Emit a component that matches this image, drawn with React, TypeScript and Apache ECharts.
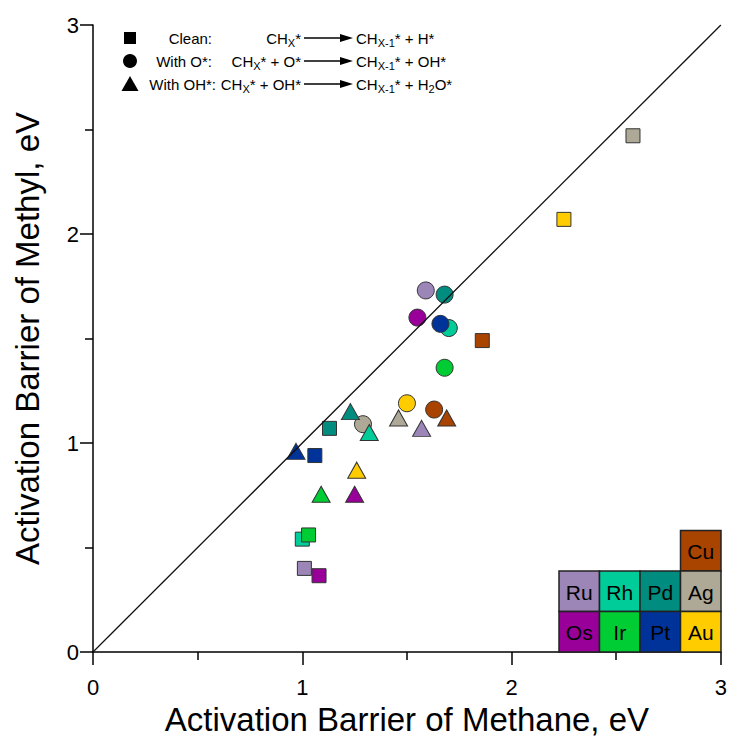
import React, { useEffect, useRef } from "react";
import * as echarts from "echarts";

// Metals (draw order)
const metals = ["Cu", "Ru", "Rh", "Pd", "Ag", "Os", "Ir", "Pt", "Au"];

// Clean surface: CHx* -> CHx-1* + H*
const cleanMethane = [1.86, 1.01, 1.0, 1.13, 2.58, 1.08, 1.03, 1.06, 2.25];
const cleanMethyl = [1.49, 0.4, 0.54, 1.07, 2.47, 0.365, 0.56, 0.94, 2.07];

// With O*
const oMethane = [1.63, 1.59, 1.7, 1.68, 1.29, 1.55, 1.68, 1.66, 1.5];
const oMethyl = [1.16, 1.73, 1.55, 1.71, 1.09, 1.6, 1.36, 1.57, 1.19];

// With OH*
const ohMethane = [1.69, 1.57, 1.32, 1.23, 1.46, 1.25, 1.09, 0.97, 1.26];
const ohMethyl = [1.12, 1.07, 1.05, 1.15, 1.12, 0.755, 0.755, 0.96, 0.87];

// parity line
const parityLine = [[0, 0], [3, 3]];

const axisTicks = [0, 1, 2, 3];

// Periodic-table legend layout (rows of metals)
const tableRows = [
  [null, null, null, "Cu"],
  ["Ru", "Rh", "Pd", "Ag"],
  ["Os", "Ir", "Pt", "Au"],
];

const metalColors: Record<string, string> = {
  Cu: "#A84300",
  Ru: "#9C86B8",
  Rh: "#00CC99",
  Pd: "#008C7F",
  Ag: "#ADA996",
  Os: "#990099",
  Ir: "#00CC33",
  Pt: "#003399",
  Au: "#FFCC00",
};

const FONT = "'Liberation Sans', Arial, Helvetica, sans-serif";

function buildData(xs: number[], ys: number[]) {
  return metals.map((m, i) => ({
    name: m,
    value: [xs[i], ys[i]],
    itemStyle: { color: metalColors[m] },
  }));
}

export default function App() {
  const ref = useRef<HTMLDivElement>(null);

  useEffect(() => {
    document.body.style.margin = "0";
    if (!ref.current) return;
    const chart = echarts.init(ref.current, undefined, { renderer: "svg" });

    const GL = 93, GR = 9, GT = 25, GB = 95;
    const W = 730, H = 747;
    const right = W - GR;
    const bottom = H - GB;

    const graphics: any[] = [];

    // periodic table legend
    const cell = 40.5;
    const nCols = 4;
    const tableLeft = right - nCols * cell;
    const tableTop = bottom - tableRows.length * cell;
    tableRows.forEach((row, r) => {
      row.forEach((m, c) => {
        if (!m) return;
        const x = tableLeft + c * cell;
        const y = tableTop + r * cell;
        graphics.push({
          type: "rect",
          shape: { x, y, width: cell, height: cell },
          style: { fill: metalColors[m], stroke: "#222", lineWidth: 1.5 },
          z: 10,
        });
        graphics.push({
          type: "text",
          x: x + cell / 2,
          y: y + cell / 2 + 1,
          style: {
            text: m,
            fill: "#000",
            fontSize: 21,
            fontFamily: FONT,
            align: "center",
            verticalAlign: "middle",
          },
          z: 11,
        });
      });
    });

    // reaction legend (top-left)
    const rowsY = [38, 61, 84];
    const rich = {
      n: { fontSize: 15, fontFamily: FONT, fill: "#000", lineHeight: 20, verticalAlign: "middle" },
      s: { fontSize: 11, fontFamily: FONT, fill: "#000", lineHeight: 11, verticalAlign: "bottom" },
    };
    graphics.push({
      type: "rect",
      shape: { x: 124, y: rowsY[0] - 6, width: 12, height: 12 },
      style: { fill: "#000" },
    });
    graphics.push({
      type: "circle",
      shape: { cx: 130, cy: rowsY[1], r: 7 },
      style: { fill: "#000" },
    });
    graphics.push({
      type: "polygon",
      shape: { points: [[121.5, rowsY[2] + 7], [138.5, rowsY[2] + 7], [130, rowsY[2] - 8]] },
      style: { fill: "#000" },
    });
    const labels = ["Clean:", "With O*:", "With OH*:"];
    const labelRight = [212, 212, 216];
    labels.forEach((t, i) => {
      graphics.push({
        type: "text",
        x: labelRight[i],
        y: rowsY[i],
        style: { text: t, fill: "#000", fontSize: 15, fontFamily: FONT, align: "right", verticalAlign: "middle" },
      });
    });
    const leftEq = [
      "{n|CH}{s|X}{n|*}",
      "{n|CH}{s|X}{n|* + O*}",
      "{n|CH}{s|X}{n|* + OH*}",
    ];
    const rightEq = [
      "{n|CH}{s|X-1}{n|* + H*}",
      "{n|CH}{s|X-1}{n|* + OH*}",
      "{n|CH}{s|X-1}{n|* + H}{s|2}{n|O*}",
    ];
    rowsY.forEach((y, i) => {
      graphics.push({
        type: "text",
        x: 301,
        y: y,
        style: { text: leftEq[i], rich, align: "right", verticalAlign: "middle" },
      });
      graphics.push({
        type: "text",
        x: 356,
        y: y,
        style: { text: rightEq[i], rich, align: "left", verticalAlign: "middle" },
      });
      graphics.push({
        type: "line",
        shape: { x1: 304, y1: y, x2: 342, y2: y },
        style: { stroke: "#000", lineWidth: 1.3 },
      });
      graphics.push({
        type: "polygon",
        shape: { points: [[340, y - 4], [353, y], [340, y + 4]] },
        style: { fill: "#000" },
      });
    });

    const axisCommon = {
      type: "value",
      min: 0,
      max: 3,
      interval: 1,
      splitLine: { show: false },
      axisLine: { show: true, onZero: false, lineStyle: { color: "#000", width: 1.5 } },
      axisTick: { show: true, inside: false, length: 13, lineStyle: { color: "#000", width: 1.5 } },
      minorTick: { show: true, splitNumber: 2, length: 8, lineStyle: { color: "#000", width: 1.5 } },
      minorSplitLine: { show: false },
      nameLocation: "middle",
      nameTextStyle: { fontSize: 33, fontFamily: FONT, color: "#000" },
    };

    const option: any = {
      animation: false,
      backgroundColor: "#fff",
      grid: { left: GL, right: GR, top: GT, bottom: GB, containLabel: false },
      xAxis: {
        ...axisCommon,
        name: "Activation Barrier of Methane, eV",
        nameGap: 50,
        axisLabel: {
          fontSize: 22,
          fontFamily: FONT,
          color: "#000",
          margin: 24,
          formatter: (v: number) => (axisTicks.includes(v) ? String(v) : ""),
        },
      },
      yAxis: {
        ...axisCommon,
        name: "Activation Barrier of Methyl, eV",
        nameGap: 49,
        axisLabel: {
          fontSize: 22,
          fontFamily: FONT,
          color: "#000",
          margin: 14,
          formatter: (v: number) => (axisTicks.includes(v) ? String(v) : ""),
        },
      },
      graphic: graphics,
      series: [
        {
          name: "Clean",
          type: "scatter",
          symbol: "rect",
          symbolSize: 14,
          itemStyle: { borderColor: "#333", borderWidth: 1, opacity: 1 },
          data: buildData(cleanMethane, cleanMethyl),
          z: 3,
        },
        {
          name: "With O*",
          type: "scatter",
          symbol: "circle",
          symbolSize: 17,
          itemStyle: { borderColor: "#333", borderWidth: 1, opacity: 1 },
          data: buildData(oMethane, oMethyl),
          z: 4,
        },
        {
          name: "With OH*",
          type: "scatter",
          symbol: "triangle",
          symbolSize: [18, 16],
          itemStyle: { borderColor: "#333", borderWidth: 1, opacity: 1 },
          data: buildData(ohMethane, ohMethyl),
          z: 5,
        },
        {
          name: "parity",
          type: "line",
          data: parityLine,
          symbol: "none",
          lineStyle: { color: "#111", width: 1.3 },
          silent: true,
          z: 6,
        },
      ],
    };

    chart.setOption(option);
    return () => chart.dispose();
  }, []);

  return <div ref={ref} style={{ width: 730, height: 747 }} />;
}
